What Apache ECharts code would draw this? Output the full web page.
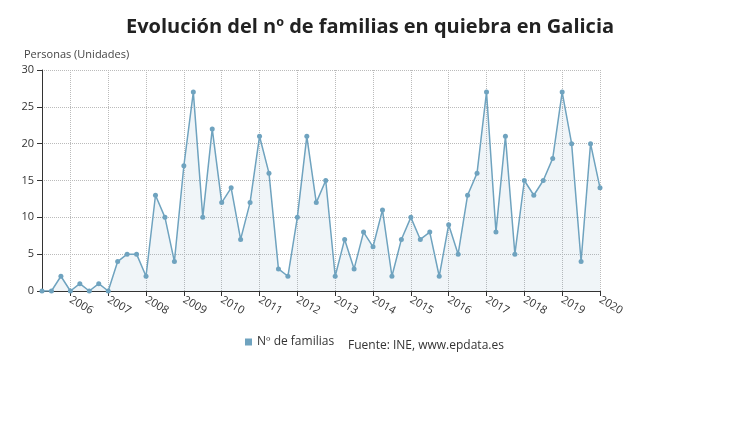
<!DOCTYPE html><html><head><meta charset="utf-8"><script src="https://cdn.jsdelivr.net/npm/echarts@6/dist/echarts.min.js"></script></head><body style="margin:0"><div id="c" style="width:740px;height:435px"></div><script>
const categories=[];for(let y=2005;y<=2020;y++)for(let q=1;q<=4;q++){if((y===2005&&q<2)||(y===2020&&q>1))continue;categories.push(y+'T'+q);}
const values=[0,0,2,0,1,0,1,0,4,5,5,2,13,10,4,17,27,10,22,12,14,7,12,21,16,3,2,10,21,12,15,2,7,3,8,6,11,2,7,10,7,8,2,9,5,13,16,27,8,21,5,15,13,15,18,27,20,4,20,14];
const yTicks=[0,5,10,15,20,25,30];
const c=echarts.init(document.getElementById('c'));
const f='"Open Sans", "Noto Sans", sans-serif';
c.setOption({
title:{text:'Evolución del nº de familias en quiebra en Galicia',left:'center',top:12,textStyle:{fontFamily:f,fontSize:20,fontWeight:'bold',color:'#222'}},
grid:{left:42,right:140,top:70,bottom:144},
legend:{bottom:82,left:240,icon:'rect',itemWidth:7,itemHeight:7,textStyle:{fontFamily:f,fontSize:12,color:'#333'},data:['Nº de familias']},
graphic:[{type:'text',left:348,top:340,style:{text:'Fuente: INE, www.epdata.es',font:'12px "Open Sans"',fill:'#333'}},
{type:'text',left:24,top:49,style:{text:'Personas (Unidades)',font:'11px "Open Sans"',fill:'#444'}}],
xAxis:{type:'category',data:categories,boundaryGap:false,
axisLine:{lineStyle:{color:'#333'}},axisTick:{show:true,interval:(i,v)=>v.endsWith('T1'),lineStyle:{color:'#333'}},
axisLabel:{interval:(i,v)=>v.endsWith('T1'),formatter:v=>v.slice(0,4),rotate:-30,fontFamily:f,fontSize:11,color:'#333'},
splitLine:{show:true,interval:(i,v)=>v.endsWith('T1'),lineStyle:{type:'dotted',color:'#bbb'}}},
yAxis:{type:'value',min:0,max:30,interval:5,axisLine:{show:true,lineStyle:{color:'#333'}},axisTick:{show:true},
axisLabel:{fontFamily:f,fontSize:11,color:'#333',formatter:v=>yTicks.includes(v)?String(v):''},
splitLine:{lineStyle:{type:'dotted',color:'#bbb'}}},
series:[{name:'Nº de familias',type:'line',data:values,symbol:'circle',symbolSize:5,
itemStyle:{color:'#6fa3bf'},lineStyle:{color:'#6fa3bf',width:1.5},areaStyle:{color:'rgba(111,163,191,0.15)'}}]
});
</script></body></html>
